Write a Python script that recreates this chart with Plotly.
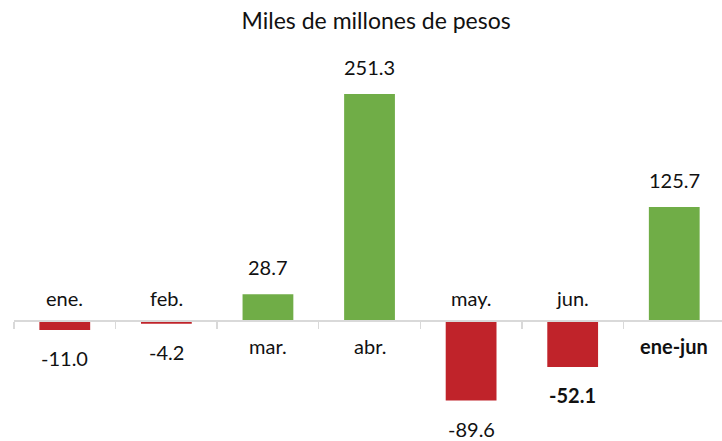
import plotly.graph_objects as go

categories = ["ene.", "feb.", "mar.", "abr.", "may.", "jun.", "ene-jun"]
values = [-11.0, -4.2, 28.7, 251.3, -89.6, -52.1, 125.7]
value_labels = ["-11.0", "-4.2", "28.7", "251.3", "-89.6", "-52.1", "125.7"]
bold_values = [False, False, False, False, False, True, False]
bold_categories = [False, False, False, False, False, False, True]
title_text = "Miles de millones de pesos"

GREEN = "#70AD47"
RED = "#C0232A"
FONT = "Lato"

W, H = 722, 441
y_min, y_max = -134.5, 311.3

x = list(range(len(categories)))
colors = [GREEN if v >= 0 else RED for v in values]

fig = go.Figure()
fig.add_trace(go.Bar(x=x, y=values, marker=dict(color=colors, line=dict(width=0)),
                     hoverinfo="skip"))

annotations = []
for i, (v, lab, b) in enumerate(zip(values, value_labels, bold_values)):
    txt = f"<b>{lab}</b>" if b else lab
    annotations.append(dict(x=i, y=v, xref="x", yref="y", text=txt, showarrow=False,
                            yanchor="middle", yshift=27 if v >= 0 else -28,
                            font=dict(family=FONT, size=20, color="#111")))
for i, (v, cat, b) in enumerate(zip(values, categories, bold_categories)):
    txt = f"<b>{cat}</b>" if b else cat
    annotations.append(dict(x=i, y=0, xref="x", yref="y", text=txt, showarrow=False,
                            yanchor="middle", yshift=-26 if v >= 0 else 22,
                            font=dict(family=FONT, size=20, color="#111")))

zero_pos = (0 - y_min) / (y_max - y_min)

fig.update_layout(
    width=W, height=H,
    margin=dict(l=14, r=0, t=40, b=0),
    paper_bgcolor="white", plot_bgcolor="white",
    showlegend=False,
    bargap=0.5,
    title=dict(text=title_text, x=0.521, xref="container", xanchor="center",
               y=1 - 21 / H, yref="container", yanchor="middle",
               font=dict(family=FONT, size=23, color="#111")),
    xaxis=dict(range=[-0.5, 6.47], showgrid=False, zeroline=False,
               showline=True, linecolor="#D9D9D9", linewidth=1.5,
               anchor="free", position=zero_pos,
               tickmode="array", tickvals=[i - 0.5 for i in range(len(categories) + 1)],
               ticks="outside", ticklen=7, tickcolor="#D9D9D9", tickwidth=1.5,
               showticklabels=False, fixedrange=True),
    yaxis=dict(range=[y_min, y_max], visible=False, showgrid=False, zeroline=False,
               fixedrange=True),
    annotations=annotations,
)

fig.write_html("out.html", config={"displayModeBar": False, "staticPlot": True},
               post_script="document.body.style.margin='0';")
